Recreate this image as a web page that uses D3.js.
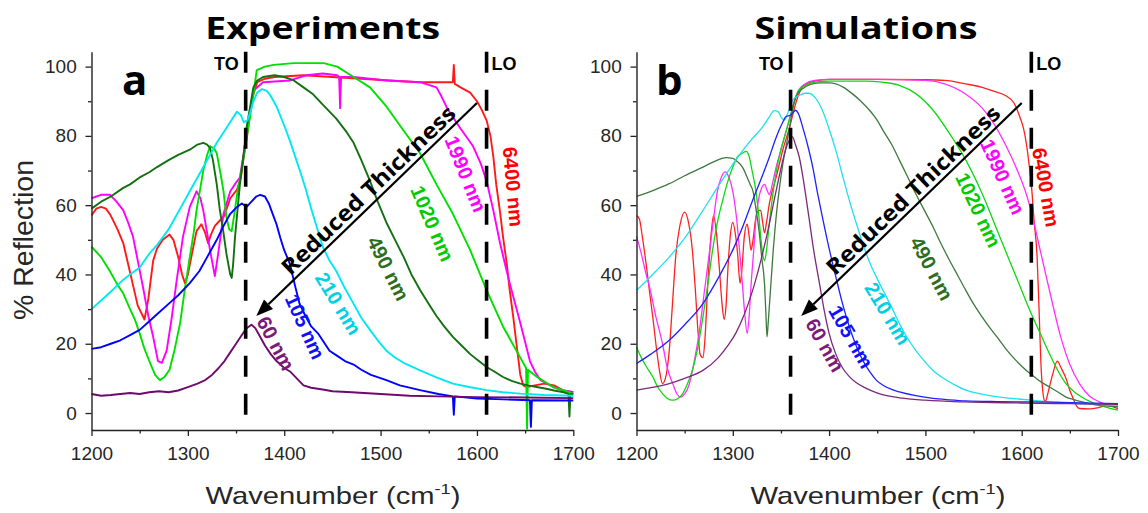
<!DOCTYPE html>
<html><head><meta charset="utf-8">
<script src="https://cdn.jsdelivr.net/npm/d3@7"></script>
<style>body{margin:0;background:#fff}</style>
</head><body><svg id="c" width="1148" height="513"></svg>
<script>
// ---------------- data ----------------
const wavenumberTicks=[1200,1300,1400,1500,1600,1700];
const wavenumberMinorTicks=[1250,1350,1450,1550,1650];
const reflectionTicks=[0,20,40,60,80,100];
const reflectionMinorTicks=[10,30,50,70,90];
const thicknessLabels=["6400 nm","1990 nm","1020 nm","490 nm","210 nm","105 nm","60 nm"];
const phononLines=[{label:"TO",wn:1360},{label:"LO",wn:1610}];
const panelTitles=["Experiments","Simulations"];
const panelLetters=["a","b"];
const arrowText="Reduced Thickness";
const arrowFrom=[1600,89.5], arrowTo=[1371,28];

// Experiments (wavenumber, % reflection)
const expRed=[[1200,57],[1205,59],[1210,59.5],[1215,59],[1220,57],[1227,53],[1233,49],[1238,43],[1243,37],[1248,31],[1255,27],[1259,33],[1264,44],[1268,47.5],[1274,50],[1281,51.5],[1285,50],[1290,45],[1294,40],[1297,37.5],[1300,40],[1305,47],[1309,52.5],[1314,54.5],[1318,52],[1321,49],[1324,51.5],[1328,54],[1333,55.5],[1338,57],[1344,62],[1351,64.5],[1355,68],[1358,74],[1362,81],[1365,87.5],[1368,92],[1372,95.5],[1380,96.5],[1390,97],[1420,97.5],[1450,97],[1480,96.5],[1510,96],[1540,95.5],[1560,95.5],[1575,95.5],[1576,100.5],[1577,95],[1583,94],[1593,92.5],[1600,90],[1605,87.5],[1610,84.5],[1614,80],[1617,74],[1620,66],[1624,58],[1627,51],[1631,43],[1634,35.5],[1638,27],[1641,20],[1645,11],[1648,8],[1652,7.5],[1660,8],[1670,8.5],[1680,8],[1690,6.5],[1700,6]];
const expMagenta=[[1200,62],[1210,63],[1219,63],[1226,61],[1233,58.5],[1238,55],[1243,51],[1248,44],[1254,35.5],[1259,28],[1264,22],[1269,15],[1273,14.5],[1278,18],[1283,27],[1288,37.5],[1295,51],[1302,59.5],[1309,64],[1313,62],[1316,58.5],[1320,52],[1323,47],[1328,39.5],[1332,47],[1337,57.5],[1344,64],[1350,66.5],[1354,68],[1358,75],[1361,80.5],[1365,88],[1368,93],[1378,95.5],[1406,96],[1423,97.5],[1440,98],[1455,97.5],[1457,97],[1458,88],[1459,97],[1472,97],[1506,96],[1541,95.5],[1558,94],[1563,91.5],[1569,88],[1582,82.5],[1596,77],[1604,72],[1610,67],[1617,58.5],[1624,49],[1630,42],[1634,37.5],[1645,26],[1655,15],[1660,12],[1666,9.5],[1679,7.5],[1690,6.5],[1700,6]];
const expGreen=[[1200,48],[1210,45],[1219,41],[1226,37.5],[1233,34.5],[1240,30],[1245,27],[1250,23],[1255,18.5],[1261,14.3],[1266,11],[1271,9.5],[1276,10.5],[1281,12.5],[1286,18],[1292,26],[1297,36],[1302,45],[1306,52],[1309,58.5],[1313,65],[1316,70],[1320,74.5],[1323,77],[1327,76.5],[1330,75],[1334,69],[1337,64],[1340,56.5],[1343,53],[1345.5,52.5],[1348,57],[1351,63],[1355,69],[1358,74],[1361,79.5],[1364.5,85.5],[1368,92],[1371.5,99],[1380,100],[1389,100.5],[1410,101],[1441,101],[1455,100],[1472,97],[1489,94],[1506,88.5],[1524,81.5],[1541,75],[1558,66],[1575,57.5],[1593,47],[1610,35.5],[1627,25],[1645,16],[1651,13],[1652,-4.5],[1653,12.5],[1662,10.5],[1679,7.5],[1690,6.5],[1700,5.5]];
const expDarkGreen=[[1200,59],[1210,61],[1220,62.5],[1233,65],[1240,66],[1250,68],[1260,69.5],[1268,71],[1280,73],[1290,74.5],[1302,76],[1310,77.5],[1316,78],[1320,77.5],[1323,76.5],[1326,73],[1330,66],[1333,59],[1337,52],[1340,46],[1342,43],[1344,40],[1345.5,39],[1347,43],[1349,51],[1351,57],[1354,66],[1358,75],[1361,82.5],[1365,89],[1368,94],[1372,96],[1378,97],[1390,97.5],[1400,97],[1410,96],[1420,94],[1430,92],[1440,89],[1454,85],[1465,81],[1472,78],[1480,73],[1489,67],[1497,61],[1506,55],[1515,50],[1524,45],[1532,40],[1541,35.5],[1550,31.5],[1558,28],[1566,25],[1575,22],[1584,19.5],[1593,17],[1602,15],[1610,13.3],[1618,12],[1627,10.4],[1636,9.3],[1645,8.5],[1653,8],[1662,7.5],[1672,7],[1680,6.5],[1690,6],[1695,5.5],[1696,-1],[1697,5.5],[1700,5.5]];
const expCyan=[[1200,30],[1210,32.5],[1220,35],[1233,38.5],[1240,40],[1250,42],[1260,46],[1268,48.5],[1280,53],[1285,55.5],[1292,59],[1302,64],[1310,68],[1320,73],[1330,78],[1337,81],[1344,84],[1351,87],[1355,86],[1358,84],[1362,84.5],[1365,87],[1368,90],[1372,92.5],[1377,93.5],[1382,93],[1386,91.5],[1392,88.5],[1400,83],[1406,78.5],[1412,73.5],[1418,68.5],[1423,64],[1428,59],[1434,53.5],[1440,48],[1447,44],[1454,41],[1463,36],[1472,31.5],[1480,27.5],[1489,24],[1497,21],[1506,18],[1515,16],[1524,14.5],[1541,12.3],[1558,10.3],[1575,8.5],[1592,7.5],[1610,6.6],[1627,6],[1645,5.6],[1670,5.2],[1700,5]];
const expBlue=[[1200,18.5],[1210,19],[1220,20],[1230,21],[1240,22.5],[1250,24],[1260,26.5],[1268,28.5],[1280,31.5],[1290,34],[1302,37.5],[1312,41],[1320,45],[1330,50],[1337,54],[1344,57.5],[1351,59.5],[1356,60.5],[1361,59.5],[1366,61],[1371,62.5],[1375,63],[1380,62.5],[1384,60.5],[1388,57.5],[1392,54.5],[1396,50.5],[1400,47],[1406,43],[1411,37],[1416,31.5],[1422,28],[1428,25],[1435,23],[1441,20.5],[1447,18],[1455,16.5],[1463,15],[1472,14],[1480,12.5],[1490,11],[1506,9.5],[1520,8],[1541,6.6],[1560,5.5],[1575,4.8],[1576,-0.5],[1577,4.8],[1600,4.2],[1620,4],[1655,3.7],[1656,-4],[1657,3.7],[1700,3.6]];
const expPurple=[[1200,5.5],[1210,5],[1220,5.2],[1230,5.5],[1240,5.8],[1250,5.5],[1260,6],[1270,6.3],[1280,6],[1290,6.5],[1300,7.5],[1310,8.5],[1318,9.5],[1325,11],[1332,13],[1338,15],[1344,17.5],[1350,20],[1356,22.5],[1361,24.5],[1366,25.5],[1370,24.5],[1375,22],[1380,19.5],[1386,17],[1392,15],[1400,13],[1406,12],[1413,10],[1420,8],[1428,7.3],[1440,6.8],[1450,6.3],[1470,6],[1500,5.5],[1530,5],[1560,4.8],[1600,4.6],[1650,4.5],[1700,4.3]];

// Simulations
const simRed=[[1200,57],[1203,56],[1206,51],[1210,43],[1214,34],[1217,27.5],[1221,18],[1224,12],[1227,8.5],[1230,10],[1234,18],[1237,30],[1241,46],[1245,54],[1250,58],[1254,55],[1258,47],[1261,36],[1264,23],[1266,17],[1269,16],[1271,21],[1274,37],[1277,50],[1280,57],[1283,52],[1286,42],[1289,31],[1291,27],[1293,31],[1295,42],[1297,50],[1300,55],[1303,51],[1305,46],[1307.5,37.5],[1309,40],[1312,51],[1315,54.5],[1317,51],[1319,47],[1321,50],[1324,56.5],[1327,58.5],[1329,58.5],[1331,55],[1333,52],[1335,55],[1338,60.5],[1345,68],[1352,76],[1359,82.5],[1366,90],[1371,93.5],[1376,95],[1385,95.8],[1400,96.3],[1450,96.3],[1500,96.2],[1520,96],[1542,95],[1559,94],[1570,93],[1584,91.5],[1592,89.5],[1598,85.5],[1602,82],[1605,77.5],[1608,71],[1610,66],[1613,55],[1616,45],[1618,30],[1620,14],[1622,6],[1623.5,3.7],[1625,3.5],[1627,5.5],[1632,11],[1637,15],[1641,13],[1646,10],[1650,6.5],[1653,4.5],[1657,2],[1660,1.3],[1670,1.2],[1680,1.6],[1688,2.2],[1695,1.8],[1700,1.3]];
const simMagenta=[[1200,51],[1205,46],[1210,40],[1213,37],[1220,28],[1227,20],[1232,13],[1237.6,8.5],[1242,5.5],[1246,4.6],[1250,5.5],[1255,8.5],[1260,15],[1265,23],[1270,34],[1276,47],[1280,56],[1284,64],[1288,68],[1292,69.6],[1296,68],[1300,64],[1304,56],[1307,47],[1310,37],[1312,30],[1315,23],[1317,28],[1319,37],[1322,48],[1324,56],[1327,62],[1330,65],[1333,66],[1336,64],[1338,63],[1341,66],[1345,71],[1350,76],[1355,81],[1360,86],[1364,90],[1368,93],[1375,95],[1385,96],[1400,96.3],[1450,96.3],[1500,96],[1520,95],[1542,92],[1559,88],[1570,84],[1584,77],[1597,69],[1605,63],[1611,57],[1620,46],[1630,34],[1640,22.5],[1650,14],[1660,8.5],[1670,5],[1680,3.3],[1690,2.3],[1700,1.8]];
const simGreen=[[1200,19],[1205,16],[1210,13.5],[1217,10.4],[1222,7.5],[1227,5.6],[1232,4.2],[1237.6,3.7],[1243,4.2],[1248,5.6],[1253,8.5],[1258,12.3],[1263,18],[1269,27.7],[1274,37],[1279,47],[1284,55],[1289.5,61.4],[1295,67],[1300,71],[1305,74],[1310,75],[1314,75.5],[1317,74],[1320,70],[1324,64],[1327,57],[1329,50.8],[1331,46],[1333,44],[1335,47],[1338,55],[1342,64],[1346,71],[1350,76],[1355,81],[1360,86],[1364,90],[1368,93],[1375,94.5],[1385,95.5],[1400,95.8],[1438,95.8],[1455,95.5],[1473,94.6],[1490,92.2],[1508,87.4],[1525,80.7],[1542,73],[1559,63.3],[1577,51],[1594,39.5],[1611,28],[1620,22.5],[1629,17],[1638,12],[1646,8.5],[1655,6],[1663,4.5],[1672,3.2],[1680.5,2.3],[1690,1.5],[1700,0.8]];
const simDarkGreen=[[1200,62.5],[1215,64],[1234,66.2],[1250,68.5],[1269,71],[1280,72.5],[1293,73.7],[1300,73.5],[1305,72.5],[1310,71],[1315,68],[1318,66],[1321,64],[1324,59],[1327.5,52],[1330,45],[1333,37],[1334.5,28],[1335.5,22],[1337,27],[1339.6,37.4],[1342,47],[1345,56.6],[1348,64],[1352,72],[1356,78],[1359,82.6],[1364,90],[1368,92.5],[1372.5,93.6],[1380,94.8],[1390,95.3],[1400,95.3],[1407,95],[1415,94],[1424,92.2],[1433,90],[1442,87.4],[1450,84.5],[1456,81.6],[1465,77.5],[1473,73],[1481,68.5],[1490,63.3],[1499,58.5],[1508,53.7],[1516,49],[1525,44.1],[1534,39.5],[1542,35.4],[1550,31.5],[1559,27.7],[1568,24.2],[1577,21],[1585,18],[1594,15.2],[1602,13],[1611,10.9],[1620,9],[1629,7.5],[1638,6],[1646,4.6],[1655,3.8],[1663,3.2],[1672,2.6],[1680,2.2],[1690,2],[1700,1.8]];
const simCyan=[[1200,35.4],[1215,39.5],[1234,45],[1250,50.5],[1269,58.5],[1285,65.5],[1303,73],[1318,78.5],[1331,82.6],[1338,85.5],[1343,87.3],[1347,87],[1350,85.5],[1353.5,84.5],[1357,86.5],[1362,90.3],[1369,91.7],[1375,92.3],[1379,92.3],[1385,91.2],[1393,87.4],[1400,82],[1407,75.8],[1414,68.5],[1421,61.4],[1428,55],[1435,48.9],[1442,43.5],[1449,39.3],[1456,35.4],[1465,30.5],[1473,25.8],[1481,21.8],[1490,18.1],[1499,15],[1508,12.3],[1520,9.8],[1530,8.2],[1542,6.6],[1560,5.4],[1577,4.6],[1595,4.1],[1610,3.7],[1646,2.9],[1675,2.5],[1700,2.2]];
const simBlue=[[1200,14.3],[1215,17],[1234,21],[1250,25.5],[1269,31.6],[1285,39],[1303,48.9],[1312,55],[1320.6,61.4],[1330,68],[1338,73.9],[1343,78],[1348,81.6],[1352,84],[1355,85.5],[1360,86],[1363,86.8],[1365,87.4],[1368,86.5],[1372.5,82.6],[1378,77],[1383,71],[1388,63.5],[1393,56.6],[1400,47.5],[1407,39.3],[1414,31.5],[1421,24.9],[1428,19.5],[1435,15.2],[1442,12],[1449,9.5],[1456,8],[1465,6.8],[1473,6.1],[1490,5],[1508,4.2],[1525,3.8],[1542,3.5],[1575,3.3],[1611,3.2],[1650,3],[1700,2.7]];
const simPurple=[[1200,6.6],[1215,7.3],[1234,8.5],[1250,10],[1269,12.3],[1285,16],[1295,19.5],[1303,23],[1312,28.5],[1320.6,35.4],[1330,45],[1338,54.7],[1343,61.5],[1348,68.1],[1352,73],[1357,77.8],[1360,79.3],[1362,79.7],[1365,77.5],[1369,73.9],[1374,66],[1379,56.6],[1384,47],[1390,37.4],[1395,29.5],[1400,23],[1407,17],[1414,13],[1421,10.5],[1428,8.8],[1438,7.2],[1449,5.9],[1460,5],[1476,4.3],[1500,3.7],[1540,3.2],[1600,2.9],[1650,2.7],[1700,2.5]];

// ---------------- layout / style ----------------
const svg=d3.select("#c");
svg.append("rect").attr("width",1148).attr("height",513).attr("fill","#fff");
const Y0=430, Y1=51.7;
const y=d3.scaleLinear().domain([-4.9,104.3]).range([Y0,Y1]);
const tickFont="'Liberation Sans', Arial, sans-serif";
const boldFont="'Open Sans', 'Lato', sans-serif";

const labelColors=["#ff0000","#ff00ff","#00cc00","#2d6e1e","#00d0e4","#1010ff","#7a1a7a"];

const panels=[
 {x0:91.5,x1:573.3,titleX:322.7,titleW:235,letterX:122,xLabelCx:333,
  series:[[expRed,"#ff1a1a"],[expMagenta,"#ff00ff"],[expGreen,"#00e000"],[expDarkGreen,"#127012"],[expCyan,"#00e8f2"],[expBlue,"#0000ff"],[expPurple,"#6e0a6e"]],
  width:1.9, smooth:false,
  labelPos:[[1637.7,65.3],[1588.3,69],[1553.7,54.7],[1508,41.7],[1456.1,31.6],[1421.6,24.9],[1391.2,20.1]],
  labelAng:[85,68,66.6,63.4,58.6,65.8,62]},
 {x0:636.5,x1:1118,titleX:866,titleW:223,letterX:656,xLabelCx:878,
  series:[[simRed,"#ff2020"],[simMagenta,"#ff30ff"],[simGreen,"#10d810"],[simDarkGreen,"#3d7a3d"],[simCyan,"#20e0f0"],[simBlue,"#2020ff"],[simPurple,"#7b2a7b"]],
  width:1.3, smooth:true,
  labelPos:[[1625.2,65.1],[1580.3,68.2],[1555,58.6],[1506.5,41.7],[1460.8,28.7],[1422.7,22],[1395.7,19.6]],
  labelAng:[80,65.6,64.5,62,58.6,60,60.5]}
];

panels.forEach((p,pi)=>{
  const x=d3.scaleLinear().domain([1200,1700]).range([p.x0,p.x1]);
  const g=svg.append("g");

  // series
  const line=d3.line().x(d=>x(d[0])).y(d=>y(d[1])).curve(p.smooth?d3.curveMonotoneX:d3.curveLinear);
  p.series.forEach(([data,col])=>{
    g.append("path").datum(data).attr("d",line).attr("fill","none")
     .attr("stroke",col).attr("stroke-width",p.width).attr("stroke-linejoin","round");
  });

  // axes
  g.append("g").attr("transform",`translate(0,${Y0})`)
    .call(d3.axisBottom(x).tickValues(wavenumberTicks).tickSize(6).tickSizeOuter(0).tickPadding(10.5).tickFormat(d3.format("d")));
  g.append("g").attr("transform",`translate(0,${Y0})`)
    .call(d3.axisBottom(x).tickValues(wavenumberMinorTicks).tickSize(3.5).tickFormat(""))
    .call(s=>s.select(".domain").remove());
  g.append("g").attr("transform",`translate(${p.x0},0)`)
    .call(d3.axisLeft(y).tickValues(reflectionTicks).tickSize(6).tickSizeOuter(0).tickPadding(8.8));
  g.append("g").attr("transform",`translate(${p.x0},0)`)
    .call(d3.axisLeft(y).tickValues(reflectionMinorTicks).tickSize(3.5).tickFormat(""))
    .call(s=>s.select(".domain").remove());
  g.selectAll(".domain").attr("stroke","#222").attr("stroke-width",1.4);
  g.selectAll(".tick line").attr("stroke","#222").attr("stroke-width",1.3);
  g.selectAll(".tick text").attr("font-family",tickFont).attr("font-size",19).attr("fill","#262626");

  // TO / LO dashed lines
  phononLines.forEach((ph,i)=>{
    const px=x(ph.wn);
    g.append("line").attr("x1",px).attr("x2",px).attr("y1",y(-0.5)).attr("y2",48)
      .attr("stroke","#000").attr("stroke-width",3.6).attr("stroke-dasharray","21,17");
    g.append("text").text(ph.label)
      .attr("x", i===0? px-7 : px+5).attr("y",70)
      .attr("text-anchor", i===0? "end":"start")
      .attr("font-family",tickFont).attr("font-weight","bold").attr("font-size",18).attr("fill","#000");
  });

  // arrow
  const S=[x(arrowFrom[0]),y(arrowFrom[1])], E=[x(arrowTo[0]),y(arrowTo[1])];
  const dx=E[0]-S[0], dy=E[1]-S[1], L=Math.hypot(dx,dy), ux=dx/L, uy=dy/L;
  const headL=17, headW=6.5;
  const B=[E[0]-ux*headL, E[1]-uy*headL];
  g.append("line").attr("x1",S[0]).attr("y1",S[1]).attr("x2",B[0]).attr("y2",B[1])
    .attr("stroke","#000").attr("stroke-width",2.2);
  g.append("path").attr("d",`M${E[0]},${E[1]}L${B[0]-uy*headW},${B[1]+ux*headW}L${B[0]+uy*headW},${B[1]-ux*headW}Z`).attr("fill","#000");
  // text along arrow (baseline just above the arrow shaft)
  const t=0.452, mx=S[0]+dx*t, my=S[1]+dy*t;
  const nx=-uy, ny=ux; // normal pointing up-left
  const off=5;
  const ang=Math.atan2(-dy,-dx)*180/Math.PI;
  g.append("text").text(arrowText)
    .attr("transform",`translate(${mx+nx*off},${my+ny*off}) rotate(${ang})`)
    .attr("text-anchor","middle").attr("font-family",boldFont).attr("font-weight","bold")
    .attr("font-size",22).attr("textLength",232).attr("lengthAdjust","spacingAndGlyphs").attr("fill","#000");

  // thickness labels
  thicknessLabels.forEach((lab,i)=>{
    const [wn,r]=p.labelPos[i];
    g.append("text").text(lab)
      .attr("transform",`translate(${x(wn)},${y(r)}) rotate(${p.labelAng[i]})`)
      .attr("text-anchor","middle").attr("dominant-baseline","central")
      .attr("font-family",tickFont).attr("font-weight","bold").attr("font-size",20)
      .attr("fill",labelColors[i]);
  });

  // title and letter
  g.append("text").text(panelTitles[pi]).attr("x",p.titleX).attr("y",38.5)
    .attr("text-anchor","middle").attr("font-family",boldFont).attr("font-weight","bold")
    .attr("font-size",31).attr("textLength",p.titleW).attr("lengthAdjust","spacingAndGlyphs").attr("fill","#000");
  g.append("text").text(panelLetters[pi]).attr("x",p.letterX).attr("y",95)
    .attr("font-family",boldFont).attr("font-weight","bold").attr("font-size",42).attr("fill","#000");

  // x axis label
  const xl=g.append("g");
  const xt=xl.append("text").attr("text-anchor","middle").attr("font-family",tickFont)
    .attr("font-size",24).attr("fill","#262626");
  xt.append("tspan").text("Wavenumber (cm");
  xt.append("tspan").text("-1").attr("font-size",15).attr("dy",-10);
  xt.append("tspan").text(")").attr("dy",10);
  const w=xt.node().getBBox().width;
  xl.attr("transform",`translate(${p.xLabelCx},504) scale(${255/w},1)`);
});

// y-axis title (panel a only)
svg.append("text").text("% Reflection")
  .attr("transform","translate(33,240) rotate(-90)")
  .attr("text-anchor","middle").attr("font-family",tickFont).attr("font-size",28)
  .attr("textLength",160).attr("lengthAdjust","spacingAndGlyphs").attr("fill","#262626");
</script>
</body></html>
